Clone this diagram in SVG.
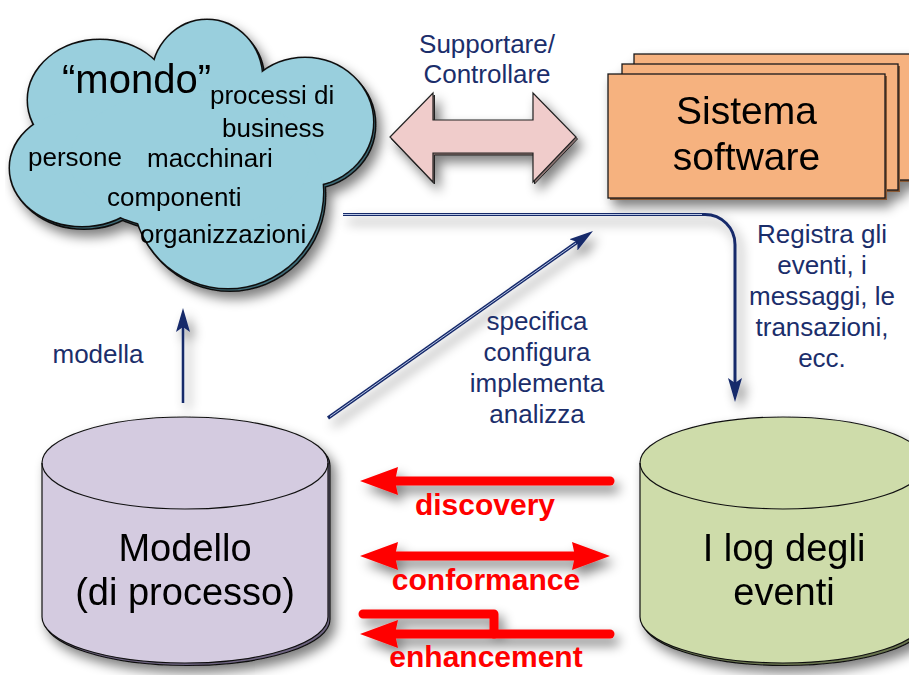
<svg xmlns="http://www.w3.org/2000/svg" width="909" height="675" viewBox="0 0 909 675">
<style>
.t{font-family:"Liberation Sans",Arial,sans-serif;}
.blk{fill:#000;}
.nv{fill:#1b2e6b;font-size:26px;}
.red{fill:#ff0000;font-size:30px;font-weight:bold;}
.ol{stroke:#1a1a1a;stroke-width:1.3;}
.nline{fill:none;stroke:#15296b;}
.rline{fill:none;stroke:#ff0000;stroke-width:9;stroke-linecap:round;stroke-linejoin:round;}
</style>
<defs>
<filter id="sh" filterUnits="userSpaceOnUse" x="0" y="0" width="909" height="675">
<feGaussianBlur in="SourceAlpha" stdDeviation="6"/>
<feOffset dx="5" dy="7"/>
<feComponentTransfer><feFuncA type="linear" slope="0.5"/></feComponentTransfer>
<feMerge><feMergeNode/><feMergeNode in="SourceGraphic"/></feMerge>
</filter>
<marker id="nh" markerUnits="userSpaceOnUse" viewBox="0 0 24 14" markerWidth="24" markerHeight="14" refX="14" refY="7" orient="auto">
<path d="M0,0 L24,7 L0,14 L5,7 Z" fill="#15296b"/>
</marker>
<marker id="rh" markerUnits="userSpaceOnUse" viewBox="0 0 38 28" markerWidth="38" markerHeight="28" refX="18" refY="14" orient="auto-start-reverse">
<path d="M0,0 L38,14 L0,28 L3,14 Z" fill="#ff0000"/>
</marker>
<g id="lobes">
<ellipse cx="100" cy="100" rx="72" ry="60"/>
<ellipse cx="207" cy="78" rx="55" ry="58"/>
<ellipse cx="305" cy="122" rx="68" ry="64"/>
<ellipse cx="228" cy="192" rx="95" ry="96"/>
<ellipse cx="82" cy="168" rx="72" ry="58"/>
<ellipse cx="190" cy="160" rx="120" ry="70"/>
</g>
<path id="cyl" d="M-143,0 L-143,154 A143,46 0 0 0 143,154 L143,0 A143,46 0 0 0 -143,0 Z"/>
</defs>

<g id="cloud" filter="url(#sh)">
<g transform="translate(2,2.5)">
<use href="#lobes" fill="#3f6c78" stroke="#111" stroke-width="3"/>
<use href="#lobes" fill="#3f6c78"/>
</g>
<use href="#lobes" fill="#99cfdd" stroke="#111" stroke-width="3"/>
<use href="#lobes" fill="#99cfdd"/>
<g class="t blk">
<text x="62" y="93" font-size="40">“mondo”</text>
<text x="210" y="104" font-size="26">processi di</text>
<text x="222" y="137" font-size="26">business</text>
<text x="28" y="166" font-size="26">persone</text>
<text x="147" y="167" font-size="26">macchinari</text>
<text x="107" y="206" font-size="26">componenti</text>
<text x="140" y="243" font-size="26">organizzazioni</text>
</g>
</g>

<g id="sistema" filter="url(#sh)">
<rect x="636" y="56" width="290" height="126" fill="#8a5a35"/>
<rect x="634" y="54" width="290" height="126" fill="#f6b27f" class="ol"/>
<rect x="624" y="66" width="276" height="126" fill="#8a5a35"/>
<rect x="622" y="64" width="276" height="126" fill="#f6b27f" class="ol"/>
<rect x="610" y="76" width="277" height="124" fill="#8a5a35"/>
<rect x="608" y="74" width="277" height="124" fill="#f6b27f" class="ol"/>
<text class="t blk" x="746.5" y="124" font-size="39" text-anchor="middle">Sistema</text>
<text class="t blk" x="746.5" y="170" font-size="39" text-anchor="middle">software</text>
</g>

<g id="modello" filter="url(#sh)">
<use href="#cyl" x="187" y="465.5" fill="#6e6480" stroke="#111" stroke-width="1.2"/>
<use href="#cyl" x="185" y="463" fill="#d4cbe0" stroke="#111" stroke-width="1.2"/>
<path d="M42,463 A143,46 0 0 0 328,463" fill="none" stroke="#111" stroke-width="1.2"/>
<text class="t blk" x="185" y="561" font-size="38" text-anchor="middle">Modello</text>
<text class="t blk" x="185" y="605" font-size="38" text-anchor="middle">(di processo)</text>
</g>

<g id="log" filter="url(#sh)">
<use href="#cyl" x="785" y="465.5" fill="#6b7650" stroke="#111" stroke-width="1.2"/>
<use href="#cyl" x="783" y="463" fill="#cedcaa" stroke="#111" stroke-width="1.2"/>
<path d="M640,463 A143,46 0 0 0 926,463" fill="none" stroke="#111" stroke-width="1.2"/>
<text class="t blk" x="784" y="561" font-size="38" text-anchor="middle">I log degli</text>
<text class="t blk" x="784" y="605" font-size="38" text-anchor="middle">eventi</text>
</g>

<g id="connectors">
<g id="supporto" filter="url(#sh)">
<polygon transform="translate(1.5,2)" points="390,137 433,93 433,120 533,120 533,93 576,137 533,182 533,153 433,153 433,182" fill="#8e7473" stroke="#222" stroke-width="1"/>
<polygon points="390,137 433,93 433,120 533,120 533,93 576,137 533,182 533,153 433,153 433,182" fill="#f0cccb" stroke="#222" stroke-width="1.2"/>
</g>
<g filter="url(#sh)">
<path class="nline" d="M343,214.5 L705,214.5 A30,30 0 0 1 735,244.5 L735,392" stroke-width="3" marker-end="url(#nh)"/>
<path d="M343,214.5 L702,214.5" stroke="#b9c6e4" stroke-width="1" fill="none"/>
<path class="nline" d="M328,418 L584.8,236.8" stroke-width="3.5" marker-end="url(#nh)"/>
<path d="M330,416.6 L576,243" stroke="#b9c6e4" stroke-width="1" fill="none"/>
<path class="nline" d="M183,403 L183,318" stroke-width="2.5" marker-end="url(#nh)"/>
</g>
<g filter="url(#sh)">
<path class="rline" d="M610,481 L380,481" marker-end="url(#rh)"/>
<path class="rline" d="M380,556 L590,556" marker-start="url(#rh)" marker-end="url(#rh)"/>
<path class="rline" d="M610,634 L380,634" marker-end="url(#rh)"/>
<path class="rline" d="M363,614 L494,614 L494,634"/>
</g>
</g>

<g id="labels" class="t">
<text class="nv" x="487" y="53" text-anchor="middle">Supportare/</text>
<text class="nv" x="487" y="83" text-anchor="middle">Controllare</text>
<text class="nv" x="98" y="363" text-anchor="middle">modella</text>
<text class="nv" x="537" y="330" text-anchor="middle">specifica</text>
<text class="nv" x="537" y="361" text-anchor="middle">configura</text>
<text class="nv" x="537" y="392" text-anchor="middle">implementa</text>
<text class="nv" x="537" y="423" text-anchor="middle">analizza</text>
<text class="nv" x="822" y="243" text-anchor="middle">Registra gli</text>
<text class="nv" x="822" y="274" text-anchor="middle">eventi, i</text>
<text class="nv" x="822" y="305" text-anchor="middle">messaggi, le</text>
<text class="nv" x="822" y="336" text-anchor="middle">transazioni,</text>
<text class="nv" x="822" y="367" text-anchor="middle">ecc.</text>
<text class="red" x="485" y="515" text-anchor="middle">discovery</text>
<text class="red" x="486" y="590" text-anchor="middle">conformance</text>
<text class="red" x="486" y="667" text-anchor="middle">enhancement</text>
</g>
</svg>
